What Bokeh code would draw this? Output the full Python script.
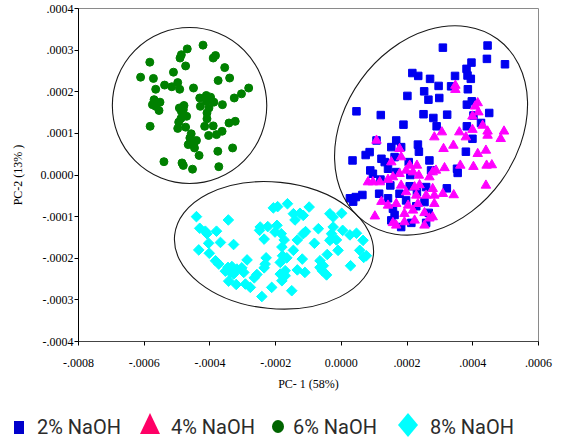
import math

from bokeh.embed import file_html
from bokeh.layouts import column
from bokeh.models import Div, FixedTicker, Range1d
from bokeh.plotting import figure
from bokeh.resources import INLINE

# PCA scores of the four treatments, listed in units of 1e-4
naoh2_pc1 = [3.09, 4.45, 4.43, 4.98, 3.96, 3.81, 3.84, 3.94, 2.16, 2.34, 2.70, 3.46, 3.34, 2.96,
             2.52, 3.85, 2.01, 2.65, 2.98, 3.82, 3.97, 4.50, 0.46, 1.20, 1.89, 2.50, 2.80, 3.22,
             2.90, 4.25, 3.82, 4.02,
             1.07, 1.67, 1.52, 1.82, 2.33, 2.36, 0.86, 0.74, 0.34, 1.22, 1.32, 1.62, 2.05, 2.68,
             3.79, 3.99, 0.88, 0.96, 1.42, 1.67, 2.10, 2.73, 3.52, 3.54, 1.19, 1.49, 2.08, 2.58,
             3.21, 1.15, 1.77, 1.42, 0.64, 0.44, 0.26, 0.36, 2.28, 2.53, 1.57, 1.62, 1.52, 2.13,
             1.82, 2.66, 2.58, 1.97, 2.30]
naoh2_pc2 = [3.06, 3.11, 2.79, 2.66, 2.70, 2.55, 2.39, 2.31, 2.45, 2.38, 2.31, 2.38, 2.13, 2.14,
             2.01, 2.06, 1.90, 1.81, 1.85, 1.69, 1.77, 1.49, 1.53, 1.44, 1.21, 1.46, 1.37, 1.45,
             1.17, 1.25, 1.17, 1.43,
             0.83, 0.83, 0.67, 0.67, 0.73, 0.56, 0.55, 0.48, 0.35, 0.39, 0.31, 0.43, 0.31, 0.35,
             0.56, 0.87, 0.11, 0.03, 0.15, 0.07, 0.00, 0.11, 0.15, 0.05, -0.11, -0.25, -0.27, -0.29,
             -0.32, -0.45, -0.45, -0.56, -0.48, -0.53, -0.56, -0.64, -0.75, -0.65, -0.81, -0.96, -1.09, -1.15,
             -1.25, -0.91, -1.15, -0.61, -0.41]

naoh4_pc1 = [3.47, 3.47, 4.15, 4.07, 4.17, 3.99, 4.30, 3.99, 4.45, 4.95, 3.59, 3.06,
             1.07, 2.83, 3.79, 4.45, 4.85, 3.11, 3.41, 4.15, 4.40, 1.77, 1.82, 1.52, 3.62, 4.02,
             4.42, 4.58, 3.14, 2.88, 2.08, 2.30, 1.97, 2.18, 2.36, 1.77, 1.57, 0.81, 1.17, 1.42,
             2.68, 2.78, 4.40, 1.82, 2.23, 2.38, 2.78, 3.09, 3.42, 1.97, 2.28, 2.58, 2.83, 1.22,
             1.42, 1.67, 2.03, 2.33, 2.83, 1.02, 1.92, 2.53, 2.68, 2.78, 1.57, 1.92, 2.23, 1.67,
             2.53, 2.18, 0.96]
naoh4_pc2 = [2.15, 2.05, 1.73, 1.65, 1.51, 1.41, 1.19, 1.09, 1.05, 1.05, 1.03, 1.03,
             0.83, 0.91, 0.91, 0.95, 0.87, 0.63, 0.71, 0.51, 0.59, 0.63, 0.43, 0.31, 0.23, 0.20,
             0.23, 0.24, 0.17, 0.11, 0.23, 0.23, 0.11, 0.07, -0.01, 0.03, -0.05, -0.17, -0.17, -0.11,
             -0.05, 0.07, -0.25, -0.25, -0.29, -0.24, -0.33, -0.45, -0.48, -0.41, -0.49, -0.49, -0.49, -0.64,
             -0.73, -0.69, -0.73, -0.69, -0.69, -0.99, -0.93, -0.91, -1.04, -1.01, -1.15, -1.13, -1.09, -1.21,
             -1.21, -0.85, -0.17]

naoh6_pc1 = [-4.69, -4.21, -4.87, -4.91, -3.83, -3.90, -5.83, -4.74, -3.55, -5.11, -6.11, -5.72,
             -3.40, -3.75, -5.38, -5.16, -4.98, -4.92, -5.65, -4.50, -2.82, -3.04, -3.26, -5.70,
             -5.52, -5.75, -5.65, -5.55, -4.31, -4.11, -3.98, -4.11, -3.88, -3.62, -4.79, -4.93,
             -4.87, -4.29, -4.03, -4.09, -4.71, -4.88, -4.95, -4.09, -5.82, -4.98, -4.74, -4.16,
             -3.90, -3.42, -3.23, -3.63, -3.80, -4.04, -4.57, -4.61, -4.41, -4.66, -4.47, -4.33,
             -3.76, -3.31, -5.40, -4.85, -4.81, -4.53, -3.73, -4.81, -4.49]
naoh6_pc2 = [3.03, 3.12, 2.89, 2.81, 2.87, 2.81, 2.71, 2.62, 2.58, 2.47, 2.35, 2.32,
             2.33, 2.27, 2.16, 2.12, 2.22, 2.06, 2.06, 2.09, 2.09, 1.95, 1.85, 1.81,
             1.75, 1.69, 1.65, 1.55, 1.85, 1.91, 1.87, 1.77, 1.75, 1.69, 1.67, 1.61,
             1.53, 1.65, 1.61, 1.49, 1.41, 1.36, 1.27, 1.35, 1.17, 1.12, 1.15, 1.17,
             1.18, 1.25, 1.29, 1.05, 0.97, 0.95, 0.99, 0.89, 0.83, 0.73, 0.65, 0.47,
             0.57, 0.65, 0.32, 0.29, 0.23, 0.14, 0.20, 1.57, 0.75]

naoh8_pc1 = [-4.41, -3.44, -1.94, -1.64, -0.98, -1.46, -1.26, -1.41, -0.35, 0.01, -4.31, -4.14,
             -3.80, -2.49, -2.24, -1.96, -2.02, -1.83, -1.74, -2.35, -1.34, -1.09, -0.70, -0.25,
             -0.30, 0.04, 0.26, 0.46, -0.35, -0.15, 0.66, -4.04, -3.68, -3.28, -4.34, -4.02,
             -3.83, -3.73, -3.53, -3.33, -3.18, -3.03, -3.28, -2.87, -3.43, -3.20, -2.92, -2.77,
             -2.57, -2.65, -2.29, -2.32, -2.35, -1.81, -1.79, -1.86, -1.66, -1.71, -1.81, -2.12,
             -1.46, -1.19, -1.34, -1.11, -0.82, -0.65, -0.55, -0.58, -0.45, -0.10, -0.43, 0.28,
             0.56, 0.68, -1.51, -2.42, -1.71, -1.16, -0.25, -0.30, 0.76, -0.65, -1.86, -1.16,
             -4.09, -3.45, -3.38, -2.97, -2.47, -2.07]
naoh8_pc2 = [-1.00, -1.08, -0.76, -0.69, -0.77, -0.93, -0.92, -1.08, -0.93, -0.92, -1.28, -1.35,
             -1.35, -1.33, -1.24, -1.21, -1.37, -1.41, -1.56, -1.54, -1.56, -1.36, -1.29, -1.25,
             -1.41, -1.33, -1.44, -1.40, -1.57, -1.56, -1.57, -1.64, -1.62, -1.67, -1.80, -1.88,
             -2.06, -2.14, -2.31, -2.20, -2.26, -2.23, -2.38, -2.04, -2.55, -2.63, -2.62, -2.70,
             -2.39, -2.47, -1.99, -2.14, -2.23, -1.73, -1.94, -2.10, -1.99, -2.30, -2.54, -2.70,
             -1.81, -2.02, -2.28, -2.34, -1.64, -2.06, -2.18, -2.30, -2.40, -1.81, -1.91, -2.18,
             -1.81, -1.98, -2.78, -2.92, -2.42, -0.97, -1.01, -1.53, -1.94, -2.22, -2.38, -1.41,
             -1.41, -2.22, -2.34, -2.34, -1.25, -0.79]

# group ellipses: centre, full axis lengths and rotation (degrees)
ell_x = [-4.62, -2.05, 2.73]
ell_y = [1.67, -1.69, 1.07]
ell_w = [4.70, 6.08, 6.88]
ell_h = [3.75, 3.04, 4.16]
ell_angle = [0.0, -5.7, 54.0]

x_ticks = [-8, -6, -4, -2, 0, 2, 4, 6]
x_tick_labels = ["-.0008", "-.0006", "-.0004", "-.0002", "0.0000", ".0002", ".0004", ".0006"]
y_ticks = [4, 3, 2, 1, 0, -1, -2, -3, -4]
y_tick_labels = [".0004", ".0003", ".0002", ".0001", "0.0000", "-.0001", "-.0002", "-.0003", "-.0004"]

groups = ["2% NaOH", "4% NaOH", "6% NaOH", "8% NaOH"]

p = figure(width=564, height=400, x_range=Range1d(-8, 6), y_range=Range1d(-4, 4),
           output_backend="svg", toolbar_location=None,
           min_border_left=78, min_border_right=26, min_border_top=8, min_border_bottom=59,
           background_fill_color="white", border_fill_color="white")
p.grid.visible = False
p.outline_line_color = "#8a8a8a"
p.outline_line_width = 1

for ax, ticks, labels in ((p.xaxis[0], x_ticks, x_tick_labels),
                          (p.yaxis[0], y_ticks, y_tick_labels)):
    ax.ticker = FixedTicker(ticks=ticks)
    ax.major_label_overrides = dict(zip(ticks, labels))
    ax.major_tick_out = 4
    ax.major_tick_in = 0
    ax.minor_tick_line_color = None
    ax.axis_line_color = "black"
    ax.major_tick_line_color = "black"
    ax.major_label_text_font = "Liberation Serif"
    ax.major_label_text_font_size = "12px"
    ax.major_label_text_color = "black"
    ax.axis_label_text_font = "Liberation Serif"
    ax.axis_label_text_font_size = "12px"
    ax.axis_label_text_font_style = "normal"
    ax.axis_label_text_color = "black"

p.xaxis.axis_line_color = "#444444"
p.xaxis.major_label_standoff = 13
p.xaxis.major_label_text_align = "left"
p.xaxis.axis_label = "PC- 1 (58%)"
p.xaxis.axis_label_standoff = 7
p.yaxis.major_label_standoff = 1
p.yaxis.major_label_text_baseline = "top"
p.yaxis.axis_label = "PC-2 (13% )"
p.yaxis.axis_label_standoff = 13

# score points
p.scatter(naoh2_pc1, naoh2_pc2, marker="square", size=7.5, color="#0000f0")
p.scatter(naoh4_pc1, naoh4_pc2, marker="triangle", size=9.5, color="#ff00ff")
p.scatter(naoh6_pc1, naoh6_pc2, marker="circle", size=8, color="#008000")
p.scatter(naoh8_pc1, naoh8_pc2, marker="square", angle=math.pi / 4, size=7.5, color="#00ffff")

# grouping ellipses
p.ellipse(x=ell_x, y=ell_y, width=ell_w, height=ell_h,
          angle=[math.radians(a) for a in ell_angle],
          fill_color=None, line_color="#1a1a1a", line_width=1.1)

# legend strip under the chart: one key shape + label per treatment
key_css = [
    "left:14px;top:21px;width:10px;height:13px;background:#0000cc;",
    "left:140px;top:13px;width:0;height:0;border-left:10.5px solid transparent;"
    "border-right:10.5px solid transparent;border-bottom:21px solid #ff0066;",
    "left:272px;top:20px;width:12px;height:13px;border-radius:50%;background:#006400;",
    "left:398px;top:13px;width:20px;height:24px;background:#00ffff;"
    "clip-path:polygon(50% 0,100% 50%,50% 100%,0 50%);",
]
label_left = [37, 171, 293, 430]
parts = []
for name, css, lx in zip(groups, key_css, label_left):
    parts.append(f'<div style="position:absolute;{css}"></div>')
    parts.append(f'<div style="position:absolute;left:{lx}px;top:17px;font-size:20px;'
                 f'line-height:20px;white-space:nowrap;color:#2b2b2b;">{name}</div>')
legend_html = ('<div style="position:relative;width:564px;height:41px;'
               'font-family:Roboto,sans-serif;background:white;">' + "".join(parts) + "</div>")
legend = Div(text=legend_html, width=564, height=41, margin=(0, 0, 0, 0))

layout = column(p, legend, spacing=0)
open("out.html", "w").write(file_html(layout, INLINE))
